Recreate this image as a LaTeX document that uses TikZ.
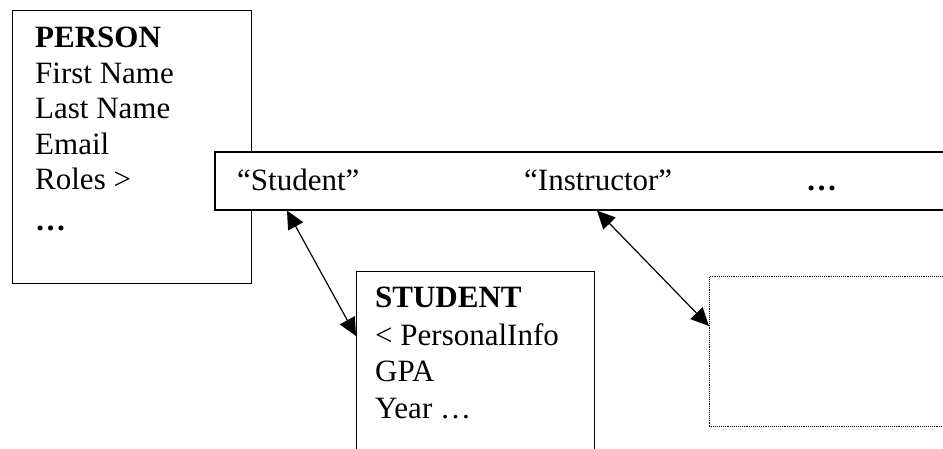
\documentclass[tikz,border=0pt]{standalone}
\usepackage{fontspec}
\setmainfont{Liberation Serif}
\usetikzlibrary{arrows.meta}
\begin{document}
\begin{tikzpicture}[x=1pt,y=-1pt,
  box/.style={draw=black,line width=1.4pt,fill=white,rectangle,inner sep=0pt,anchor=north west},
  dotbox/.style={draw=black,line width=0.9pt,densely dotted,rectangle,inner sep=0pt,anchor=north west},
  txt/.style={anchor=base west,inner sep=0pt,font=\fontsize{31}{36}\selectfont},
  link/.style={line width=1.2pt,{Triangle[length=18pt,width=17pt]}-{Triangle[length=18pt,width=17pt]}}]
\useasboundingbox (0,0) rectangle (943,449);
\fill[white] (0,0) rectangle (943,449);
% PERSON box
\node[box,minimum width=239pt,minimum height=273pt] (person) at (12,10) {};
\node[txt] (p1) at (35,48) {\textbf{PERSON}};
\node[txt] (p2) at (35,83.5) {First Name};
\node[txt] (p3) at (35,119) {Last Name};
\node[txt] (p4) at (35,154.5) {Email};
\node[txt] (p5) at (35,190) {Roles >};
\node[txt] (p6) at (35,231) {\textbf{…}};
% roles bar
\node[box,line width=1.6pt,minimum width=760pt,minimum height=58pt] (bar) at (214,151) {};
\node[txt] (r1) at (237,191) {“Student”};
\node[txt] (r2) at (524,191) {“Instructor”};
\node[txt] (r3) at (806,191) {\textbf{…}};
% STUDENT box
\node[box,minimum width=238pt,minimum height=200pt] (student) at (356,271) {};
\node[txt] (s1) at (375,308) {\textbf{STUDENT}};
\node[txt] (s2) at (375,345) {< PersonalInfo};
\node[txt] (s3) at (375,381) {GPA};
\node[txt] (s4) at (375,418) {Year …};
% dotted box
\node[dotbox,minimum width=260pt,minimum height=150pt] (empty) at (709,276) {};
% connectors
\coordinate (a1) at (bar.south west -| 287,0);
\coordinate (a2) at (student.north west |- 0,336);
\coordinate (b1) at (bar.south west -| 597,0);
\coordinate (b2) at (empty.north west |- 0,326);
\draw[link] (a1) -- (a2);
\draw[link] (b1) -- (b2);
\end{tikzpicture}
\end{document}
